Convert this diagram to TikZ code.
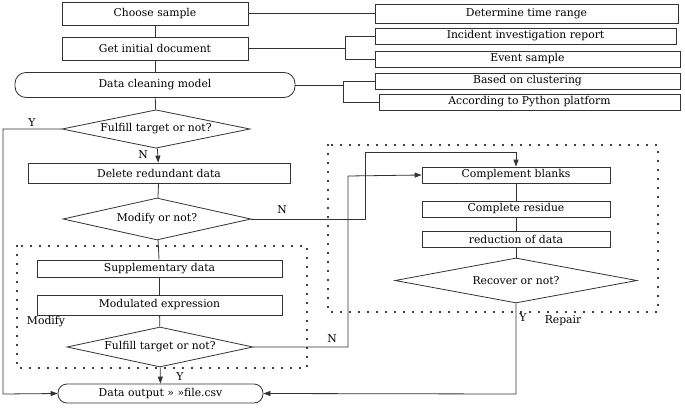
\documentclass[tikz,border=0pt]{standalone}
\usepackage{fontspec}
\setmainfont{DejaVu Serif}
\usetikzlibrary{shapes.geometric,arrows.meta}
\begin{document}
\begin{tikzpicture}[x=1pt,y=-1pt,
  lbl/.style={font=\fontsize{10.8}{12}\selectfont, inner sep=0pt, text=black},
  box/.style={draw=black!80, line width=0.8pt, rectangle, inner sep=0pt, lbl},
  rbox/.style={box, rounded corners=11pt},
  dia/.style={draw=black!80, line width=0.8pt, diamond, inner sep=0pt, aspect=4, lbl},
  con/.style={draw=black!80, line width=0.8pt},
  arr/.style={con, -{Triangle[length=7pt,width=5pt]}},
  dotline/.style={draw=black, line width=2.2pt, line cap=round, dash pattern=on 0pt off 9pt},
  tag/.style={lbl}]
\useasboundingbox (0,0) rectangle (685,409);
% main column
\node[box, minimum width=186pt, minimum height=23pt] (choose) at (155,13.5) {Choose sample};
\node[box, minimum width=186pt, minimum height=23pt] (getdoc) at (155,48.5) {Get initial document};
\node[rbox, minimum width=280pt, minimum height=25pt] (clean) at (155,85) {Data cleaning model};
\node[dia, minimum width=188pt, minimum height=36pt] (d1) at (156,129) {Fulfill target or not?};
\node[box, minimum width=262pt, minimum height=20pt] (del) at (159,173) {Delete redundant data};
\node[dia, minimum width=188pt, minimum height=42pt] (d2) at (157,219) {Modify or not?};
\node[box, minimum width=245pt, minimum height=17pt] (supp) at (159.5,268.5) {Supplementary data};
\node[box, minimum width=245pt, minimum height=20pt] (modexp) at (159.5,305) {Modulated expression};
\node[dia, minimum width=186pt, minimum height=40pt] (d3) at (160,347) {Fulfill target or not?};
\node[rbox, rounded corners=9pt, minimum width=205pt, minimum height=19pt] (out) at (160.5,393.5) {Data output » »file.csv};
% right column
\node[box, minimum width=188pt, minimum height=16pt] (comp) at (516,175) {Complement blanks};
\node[box, minimum width=188pt, minimum height=16pt] (resid) at (516,209) {Complete residue};
\node[box, minimum width=188pt, minimum height=16pt] (red) at (516,239) {reduction of data};
\node[dia, minimum width=242pt, minimum height=45pt] (rec) at (516,280.5) {Recover or not?};
% side boxes
\node[box, minimum width=303pt, minimum height=19pt] (det) at (526.5,13.5) {Determine time range};
\node[box, minimum width=301pt, minimum height=16pt] (inc) at (525.5,36) {Incident investigation report};
\node[box, minimum width=305pt, minimum height=16pt] (evt) at (527.5,59) {Event sample};
\node[box, minimum width=305pt, minimum height=16pt] (clus) at (527.5,81) {Based on clustering};
\node[box, minimum width=301pt, minimum height=16pt] (py) at (529.5,102) {According to Python platform};
% dotted frames
\draw[dotline] (17,246) rectangle (307,368);
\draw[dotline] (328,145) rectangle (658,312);
% coordinates
\coordinate (jg) at (345,48.5);
\coordinate (jc) at (343,85);
\coordinate (ly) at (3,129);
\coordinate (ly2) at (3,394);
\coordinate (m1) at (365,219);
\coordinate (m2) at (365,152);
\coordinate (m3) at (516,152);
\coordinate (f1) at (348,347);
\coordinate (f2) at (348,176);
\coordinate (r1) at (516,394);
% connectors
\draw[con] (choose) -- (getdoc);
\draw[con] (getdoc) -- (clean);
\draw[con] (clean) -- (d1);
\draw[arr] (d1) -- (del);
\draw[con] (del) -- (d2);
\draw[con] (d2) -- (supp);
\draw[con] (supp) -- (modexp);
\draw[con] (modexp) -- (d3);
\draw[arr] (d3) -- (out);
\draw[con] (comp) -- (resid);
\draw[con] (resid) -- (red);
\draw[con] (red) -- (rec);
\draw[con] (choose.east) -- (det.west);
\draw[con] (getdoc.east) -- (jg) |- (inc.west);
\draw[con] (jg) |- (evt.west);
\draw[con] (clean.east) -- (jc) |- (clus.west);
\draw[con] (jc) |- (py.west);
\draw[arr] (d1.west) -- (ly) -- (ly2) -- (out.west);
\draw[arr] (d2.east) -- (m1) -- (m2) -- (m3) -- (comp.north);
\draw[arr] (d3.east) -- (f1) -- (f2) -- (comp.west);
\draw[arr] (rec.south) -- (r1) -- (out.east);
% labels
\node[tag] (ty1) at (32,123) {Y};
\node[tag] (tn1) at (143,155) {N};
\node[tag] (tn2) at (282,210) {N};
\node[tag] (tn3) at (332,339) {N};
\node[tag] (ty3) at (180,377) {Y};
\node[tag] (ty4) at (523,318) {Y};
\node[tag] (trep) at (563,321) {Repair};
\node[tag] (tmod) at (46,322) {Modify};
\end{tikzpicture}
\end{document}
